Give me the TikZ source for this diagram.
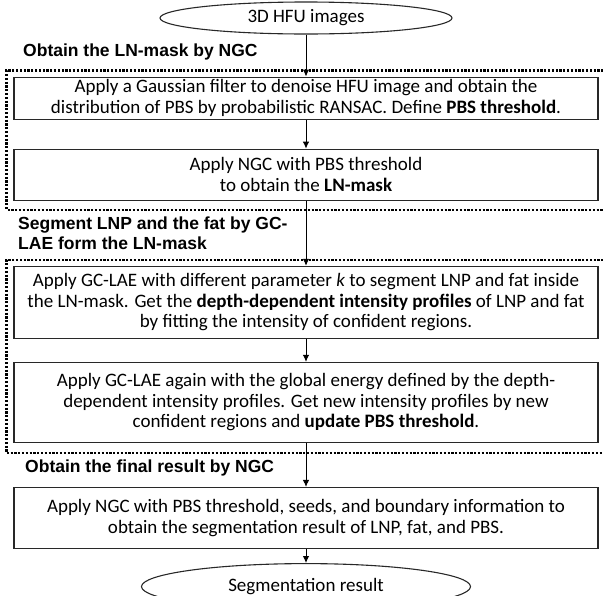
\documentclass[tikz,border=0pt]{standalone}
\usepackage{fontspec}
\setmainfont{Carlito}
\newfontfamily\labelfont{Liberation Sans}
\usetikzlibrary{arrows.meta,shapes.geometric,calc,positioning}
\definecolor{lineColor}{RGB}{40,40,40}
\tikzset{stepbox/.style={draw=lineColor, line width=1.1pt, align=center, minimum width=584pt, inner sep=2pt, font=\fontsize{19}{20.5}\selectfont}}
\tikzset{terminal/.style={ellipse, draw=lineColor, line width=1.1pt, inner sep=0pt, font=\fontsize{19}{20.5}\selectfont}}
\tikzset{stage/.style={anchor=west, align=left, inner sep=0pt, font=\labelfont\bfseries\fontsize{17.5}{20}\selectfont}}
\tikzset{group/.style={line width=2.2pt, dash pattern=on 2.2pt off 1.6pt}}
\tikzstyle{arrow} = [-{Latex[length=7pt,width=6.5pt]}, line width=1pt]

\begin{document}
\begin{tikzpicture}[x=1pt, y=-1pt]
	\useasboundingbox (0,0) rectangle (603,595);
	% Nodes
		\node (start) [terminal, minimum width=292pt, minimum height=32pt] at (306,18) {3D HFU images};
		\node (filter) [stepbox, minimum height=42pt, below=42pt of start] {Apply a Gaussian filter to denoise HFU image and obtain the\\distribution of PBS by probabilistic RANSAC. Define \textbf{PBS threshold}.};
		\node (mask) [stepbox, minimum height=51pt, below=29pt of filter] {Apply NGC with PBS threshold\\to obtain the \textbf{LN-mask}};
		\node (gclae) [stepbox, minimum height=72pt, below=65pt of mask] {Apply GC-LAE with different parameter \textit{k} to segment LNP and fat inside\\the LN-mask. Get the \textbf{depth-dependent intensity profiles} of LNP and fat\\by fitting the intensity of confident regions.};
		\node (update) [stepbox, minimum height=80pt, below=23pt of gclae] {Apply GC-LAE again with the global energy defined by the depth-\\dependent intensity profiles. Get new intensity profiles by new\\confident regions and \textbf{update PBS threshold}.};
		\node (final) [stepbox, minimum height=61pt, below=44pt of update] {Apply NGC with PBS threshold, seeds, and boundary information to\\obtain the segmentation result of LNP, fat, and PBS.};
		\node (result) [terminal, minimum width=329pt, minimum height=46pt, below=14pt of final] {Segmentation result};

		% Stage labels
		\node (stageA) [stage] at (23,52) {Obtain the LN-mask by NGC};
		\node (stageB) [stage] at (18,233) {Segment LNP and the fat by GC-\\LAE form the LN-mask};
		\node (stageC) [stage] at (25,468) {Obtain the final result by NGC};

		% Dotted groups
		\draw [group] ($(filter.north east)+(20,-6)$) -| ($(mask.south west)+(-7,9)$) -- ($(mask.south east)+(20,9)$);
		\draw [group] ($(gclae.north east)+(20,-6)$) -| ($(update.south west)+(-7,10)$) -- ($(update.south east)+(20,10)$);

		% Connectors
		\begin{scope}[->]
			\draw [arrow] (start) -- (filter);
			\draw [arrow] (filter) -- (mask);
			\draw [arrow] (mask) -- (gclae);
			\draw [arrow] (gclae) -- (update);
			\draw [arrow] (update) -- (final);
			\draw [arrow] (final) -- (result);
		\end{scope}
\end{tikzpicture}
\end{document}
